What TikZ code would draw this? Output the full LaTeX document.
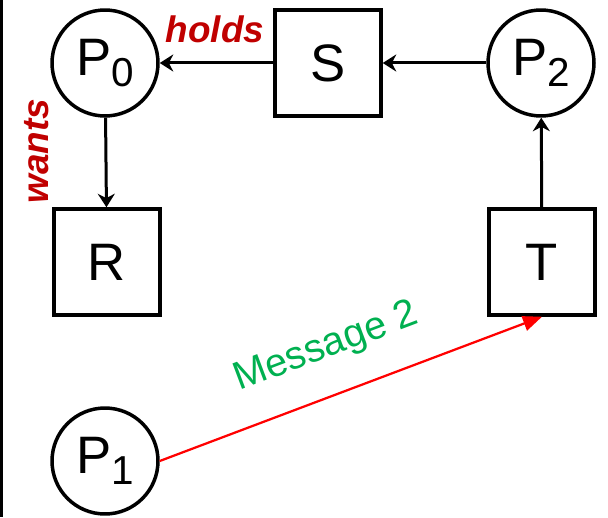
\documentclass[tikz,border=0pt]{standalone}
\usepackage{fontspec}
\setmainfont{Liberation Sans}
\usetikzlibrary{arrows.meta}
\definecolor{hold}{RGB}{192,0,0}
\definecolor{msg}{RGB}{0,176,80}
\newcommand{\idx}[1]{\raisebox{-6pt}{\fontsize{23}{23}\selectfont #1}}

\begin{document}
\begin{tikzpicture}[x=0.02cm,y=-0.02cm,>={Stealth[length=0.27cm,width=0.34cm]},font=\fontsize{30}{32}\selectfont]
\tikzstyle{pc}=[draw,circle,line width=0.07cm,minimum size=2.12cm,inner sep=0pt]
\tikzstyle{rs}=[draw,rectangle,line width=0.07cm,minimum size=2.12cm,inner sep=0pt]
\tikzstyle{lbl}=[text=hold,font=\fontsize{21}{21}\selectfont\bfseries\itshape,inner sep=0pt]
\useasboundingbox (0,0) rectangle (608,517);
\draw[line width=0.06cm] (1.5,0) -- (1.5,517);
% processes and resources
\node[pc] (p0) at (105,63) {P\idx{0}};
\node[rs] (s) at (328,63) {S};
\node[pc] (p2) at (541,63) {P\idx{2}};
\node[rs] (r) at (107,262) {R};
\node[rs] (t) at (542,262) {T};
\node[pc] (p1) at (105,461) {P\idx{1}};
\node[lbl] (h) at (215,29) {holds};
\node[lbl,rotate=90] (w) at (37,151) {wants};
\draw[->,line width=0.06cm] (s) -- (p0);
\draw[->,line width=0.06cm] (p2) -- (s);
\draw[->,line width=0.06cm] (p0) -- (r);
\draw[->,line width=0.06cm] (t) -- (p2);
\draw[-{Triangle[length=0.38cm,width=0.3cm]},red,line width=0.045cm] (p1.east) -- node[pos=0.48,sloped,above=0.56cm,inner sep=0pt,text=msg,font=\fontsize{22.5}{22.5}\selectfont] {Message 2} (t.south);
\end{tikzpicture}
\end{document}
